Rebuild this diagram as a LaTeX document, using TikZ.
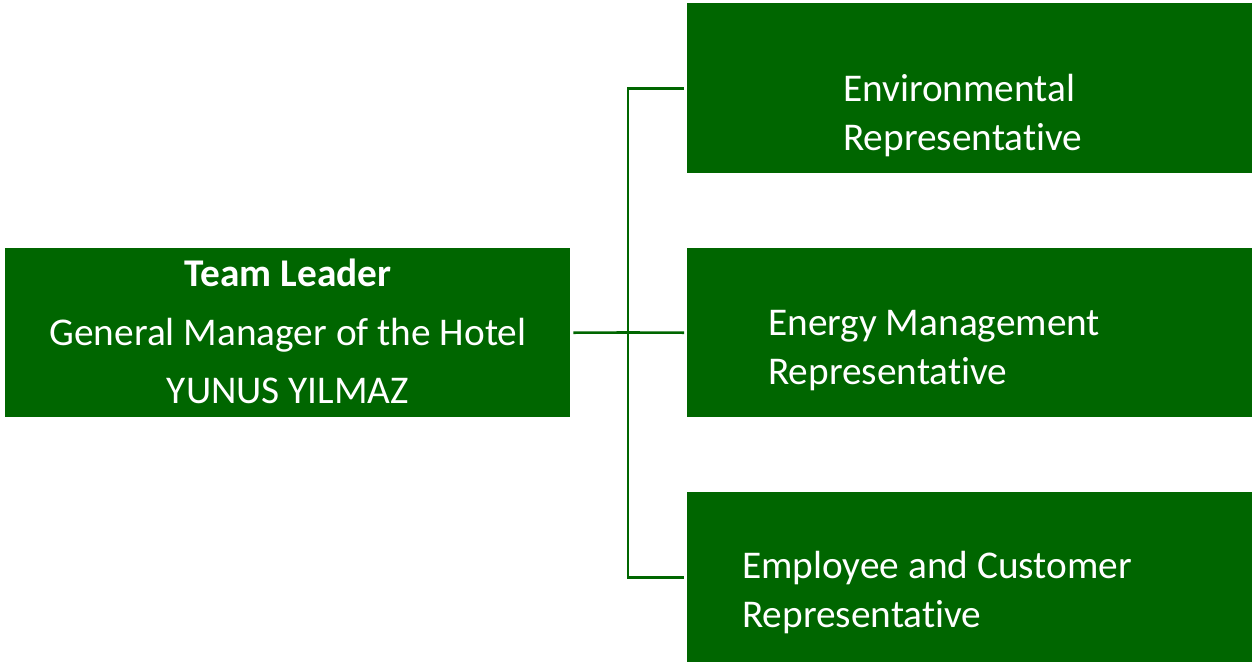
\documentclass[tikz,border=0pt]{standalone}
\usepackage{fontspec}
\setmainfont{Carlito}[Ligatures=CommonOff]
\definecolor{teamgreen}{RGB}{0,102,0}
\begin{document}
\begin{tikzpicture}[x=1pt,y=-1pt,
  box/.style={draw=none,fill=teamgreen,minimum width=565pt,inner sep=0pt},
  txt/.style={text=white,font=\fontsize{39.3}{49}\selectfont,inner sep=0pt},
  link/.style={draw=teamgreen,line width=2.6pt}]
\useasboundingbox (0,0) rectangle (1252,662);
% boxes
\node[box,minimum height=169pt,anchor=north west] (lead) at (5,248) {};
\node[box,minimum height=170pt,anchor=north west] (env) at (687,3) {};
\node[box,minimum height=169pt,anchor=north west] (energy) at (687,248) {};
\node[box,minimum height=170pt,anchor=north west] (emp) at (687,492) {};
% labels
\node[txt,anchor=base] (l1) at (288,286) {\textbf{Team Leader}};
\node[txt,anchor=base] (l2) at (288,345) {General Manager of the Hotel};
\node[txt,anchor=base] (l3) at (288,403) {YUNUS YILMAZ};
\node[txt,anchor=base west,align=left] (t1) at (843,150) {Environmental\\Representative};
\node[txt,anchor=base west,align=left] (t2) at (768,384) {Energy Management\\Representative};
\node[txt,anchor=base west,align=left] (t3) at (742,627) {Employee and Customer\\Representative};
% connectors
\coordinate (bus) at (628,332.5);
\draw[link] ([xshift=3pt]lead.east) -- (bus);
\draw[link] ([xshift=-3pt]energy.west) -- (bus);
\draw[link] ([xshift=-3pt]env.west) -| (bus) |- ([xshift=-3pt]emp.west);
\end{tikzpicture}
\end{document}
